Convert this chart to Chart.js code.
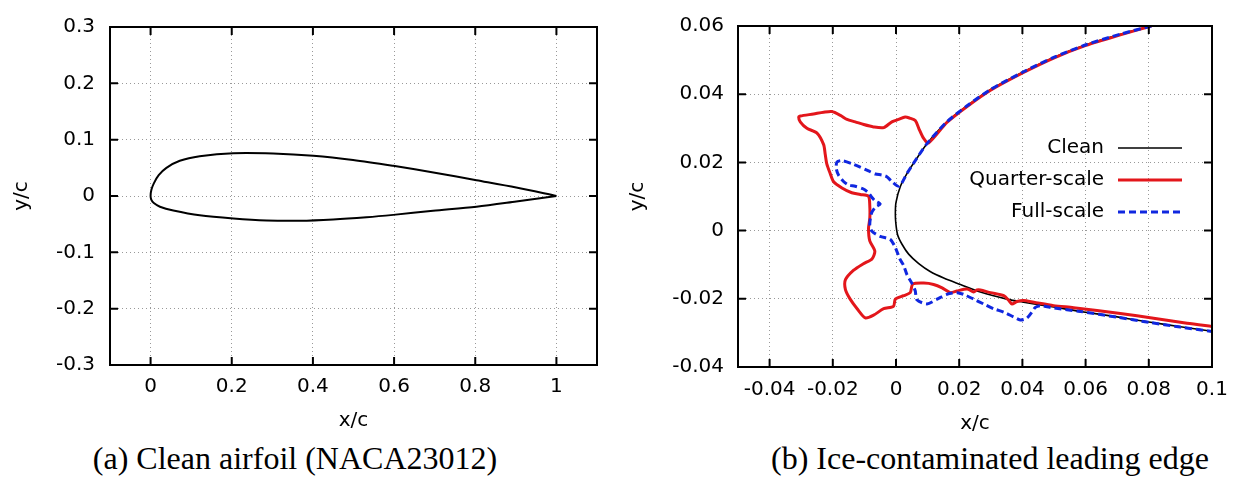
<!DOCTYPE html>
<html>
<head>
<meta charset="utf-8">
<script src="https://cdn.jsdelivr.net/npm/chart.js@4/dist/chart.umd.min.js"></script>
<style>
  html, body { margin: 0; padding: 0; background: #fff; }
  body { width: 1237px; height: 480px; position: relative; overflow: hidden; }
  .box { position: absolute; top: 0; height: 440px; }
  .cap { position: absolute; top: 442px; width: 520px; text-align: center;
         font-family: "Liberation Serif", "Times New Roman", serif; font-size: 32px;
         line-height: 32px; color: #000; white-space: nowrap; }
</style>
</head>
<body>
<div class="box" style="left:0; width:620px;"><canvas id="chartA"></canvas></div>
<div class="box" style="left:620px; width:640px;"><canvas id="chartB"></canvas></div>
<div class="cap" style="left:35px;">(a) Clean airfoil (NACA23012)</div>
<div class="cap" style="left:730px;">(b) Ice-contaminated leading edge</div>
<script>
// (a) clean airfoil, trailing edge -> upper -> leading edge -> lower -> trailing edge
var airfoilX = [1.0, 0.901, 0.803, 0.704, 0.598, 0.499, 0.401, 0.302, 0.204, 0.121, 0.072, 0.039, 0.020, 0.008, 0.002, 0.0,
                0.002, 0.008, 0.023, 0.056, 0.121, 0.204, 0.286, 0.368, 0.450, 0.532, 0.598, 0.696, 0.803, 0.901, 1.0];
var airfoilY = [0.0, 0.0150, 0.0280, 0.0410, 0.0535, 0.0640, 0.0715, 0.0755, 0.0760, 0.0705, 0.0625, 0.0500, 0.0370, 0.0225, 0.0110, 0.0,
                -0.0070, -0.0125, -0.0190, -0.0257, -0.0343, -0.0400, -0.0435, -0.0440, -0.0417, -0.0377, -0.0335, -0.0263, -0.0189, -0.0097, 0.0];

// (b) leading edge close-up
var cleanX = [0.0808, 0.0710, 0.0601, 0.0499, 0.0402, 0.0298, 0.0225, 0.0161, 0.0098, 0.0061, 0.0035, 0.0014, 0.0000, -0.0002, -0.0001,
              0.0005, 0.0019, 0.0040, 0.0072, 0.0108, 0.0151, 0.0204, 0.0267, 0.0351, 0.0404, 0.0499, 0.0583, 0.0700, 0.0800, 0.0900, 0.1000];
var cleanY = [0.0600, 0.0576, 0.0545, 0.0508, 0.0465, 0.0413, 0.0366, 0.0319, 0.0255, 0.0205, 0.0168, 0.0130, 0.0083, 0.0054, 0.0026,
              -0.0012, -0.0040, -0.0069, -0.0097, -0.0120, -0.0139, -0.0158, -0.0180, -0.0201, -0.0210, -0.0224, -0.0237, -0.0253, -0.0268, -0.0282, -0.0295];

var quarterX = [0.0808, 0.0710, 0.0601, 0.0499, 0.0402, 0.0298, 0.0225, 0.0161, 0.0103,
                0.0087, 0.0072, 0.0061, 0.0043, 0.0029, 0.0008, -0.0013, -0.0039, -0.0071, -0.0102, -0.0129, -0.0155, -0.0176, -0.0203,
                -0.0229, -0.0261, -0.0303, -0.0308, -0.0303, -0.0282, -0.0250, -0.0229, -0.0224, -0.0219, -0.0208, -0.0198, -0.0171,
                -0.0140, -0.0113, -0.0087, -0.0083, -0.0083, -0.0087, -0.0083, -0.0067, -0.0076, -0.0103, -0.0134, -0.0160, -0.0160,
                -0.0145, -0.0123, -0.0097, -0.0071, -0.0039, -0.0008, -0.0002, 0.0024, 0.0045, 0.0053,
                0.0088, 0.0119, 0.0146, 0.0172, 0.0193, 0.0225, 0.0246, 0.0256, 0.0267, 0.0299, 0.0341, 0.0357, 0.0367, 0.0383,
                0.0404, 0.0436, 0.0499, 0.0562, 0.0710, 0.0815, 0.0921, 0.1000];
var quarterY = [0.0600, 0.0574, 0.0543, 0.0506, 0.0463, 0.0411, 0.0364, 0.0317, 0.0257,
                0.0271, 0.0300, 0.0323, 0.0330, 0.0333, 0.0326, 0.0319, 0.0302, 0.0304, 0.0311, 0.0319, 0.0326, 0.0338, 0.0349,
                0.0347, 0.0342, 0.0336, 0.0333, 0.0319, 0.0300, 0.0286, 0.0252, 0.0224, 0.0196, 0.0167, 0.0144, 0.0125,
                0.0111, 0.0106, 0.0101, 0.0073, 0.0035, 0.0007, -0.0030, -0.0060, -0.0083, -0.0097, -0.0116, -0.0144, -0.0173,
                -0.0201, -0.0229, -0.0256, -0.0248, -0.0229, -0.0222, -0.0201, -0.0191, -0.0182, -0.0157,
                -0.0154, -0.0158, -0.0168, -0.0182, -0.0177, -0.0171, -0.0180, -0.0174, -0.0174, -0.0182, -0.0191, -0.0205, -0.0215, -0.0208,
                -0.0205, -0.0210, -0.0220, -0.0226, -0.0243, -0.0257, -0.0272, -0.0281];

var fullX = [0.0808, 0.0710, 0.0601, 0.0499, 0.0402, 0.0298, 0.0225, 0.0161, 0.0098, 0.0061, 0.0035, 0.0010,
             -0.0013, -0.0029, -0.0044, -0.0065, -0.0087, -0.0113, -0.0139, -0.0171, -0.0187, -0.0189, -0.0182, -0.0166, -0.0150,
             -0.0129, -0.0103, -0.0087, -0.0076, -0.0066, -0.0050, -0.0066, -0.0078, -0.0083, -0.0076, -0.0050, -0.0018, -0.0002,
             0.0012, 0.0024, 0.0035, 0.0050, 0.0061, 0.0066, 0.0098, 0.0130, 0.0161, 0.0193, 0.0214, 0.0246, 0.0277, 0.0309,
             0.0341, 0.0372, 0.0393, 0.0414, 0.0430, 0.0441, 0.0457, 0.0499, 0.0583, 0.0700, 0.0800, 0.0900, 0.1000];
var fullY = [0.0600, 0.0576, 0.0545, 0.0508, 0.0465, 0.0413, 0.0366, 0.0319, 0.0255, 0.0205, 0.0168, 0.0130,
             0.0144, 0.0158, 0.0163, 0.0166, 0.0175, 0.0186, 0.0196, 0.0205, 0.0201, 0.0182, 0.0163, 0.0144, 0.0134,
             0.0130, 0.0122, 0.0111, 0.0097, 0.0087, 0.0078, 0.0068, 0.0050, 0.0016, -0.0002, -0.0017, -0.0026, -0.0050,
             -0.0083, -0.0102, -0.0130, -0.0154, -0.0177, -0.0203, -0.0215, -0.0201, -0.0187, -0.0182, -0.0187, -0.0201, -0.0215, -0.0229,
             -0.0239, -0.0253, -0.0262, -0.0257, -0.0239, -0.0225, -0.0220, -0.0227, -0.0237, -0.0254, -0.0269, -0.0283, -0.0296];

var seriesNames = ['Clean', 'Quarter-scale', 'Full-scale'];

var ticksAX = [0, 0.2, 0.4, 0.6, 0.8, 1];
var ticksAY = [-0.3, -0.2, -0.1, 0, 0.1, 0.2, 0.3];
var ticksBX = [-0.04, -0.02, 0, 0.02, 0.04, 0.06, 0.08, 0.1];
var ticksBY = [-0.04, -0.02, 0, 0.02, 0.04, 0.06];

function pts(xs, ys) {
  return xs.map(function (x, i) { return { x: x, y: ys[i] }; });
}
function fmt(v) { return String(+Number(v).toFixed(4)); }

Chart.defaults.font.family = '"DejaVu Sans", sans-serif';
Chart.defaults.font.size = 20;
Chart.defaults.color = '#000';
Chart.defaults.animation = false;

// gnuplot style box: solid frame with inward tick marks on all four sides
var frameTicks = {
  id: 'frameTicks',
  afterDatasetsDraw: function (chart) {
    var ctx = chart.ctx, a = chart.chartArea;
    var xs = chart.scales.x, ys = chart.scales.y;
    ctx.save();
    ctx.strokeStyle = '#000';
    ctx.lineWidth = 2;
    ctx.setLineDash([]);
    ctx.beginPath();
    xs.ticks.forEach(function (t) {
      var px = xs.getPixelForValue(t.value);
      ctx.moveTo(px, a.bottom); ctx.lineTo(px, a.bottom - 8);
      ctx.moveTo(px, a.top); ctx.lineTo(px, a.top + 8);
    });
    ys.ticks.forEach(function (t) {
      var py = ys.getPixelForValue(t.value);
      ctx.moveTo(a.left, py); ctx.lineTo(a.left + 8, py);
      ctx.moveTo(a.right, py); ctx.lineTo(a.right - 8, py);
    });
    ctx.stroke();
    ctx.strokeRect(a.left, a.top, a.right - a.left, a.bottom - a.top);
    ctx.restore();
  }
};

// key inside the plot, text right-aligned with the line sample after it
var insideLegend = {
  id: 'insideLegend',
  afterDraw: function (chart) {
    var ctx = chart.ctx, a = chart.chartArea;
    ctx.save();
    chart.data.datasets.forEach(function (ds, i) {
      var y = a.top + 122 + i * 32;
      ctx.font = '20px "DejaVu Sans"';
      ctx.fillStyle = '#000';
      ctx.textAlign = 'right';
      ctx.textBaseline = 'middle';
      ctx.fillText(ds.label, a.right - 108, y);
      ctx.strokeStyle = ds.borderColor;
      ctx.lineWidth = ds.borderWidth;
      ctx.setLineDash(ds.borderDash || []);
      ctx.beginPath();
      ctx.moveTo(a.right - 94, y);
      ctx.lineTo(a.right - 30, y);
      ctx.stroke();
    });
    ctx.restore();
  }
};

function axis(min, max, tickVals, title, opts) {
  return {
    type: 'linear',
    min: min,
    max: max,
    afterBuildTicks: function (s) { s.ticks = tickVals.map(function (v) { return { value: v }; }); },
    afterFit: opts.fit,
    ticks: { padding: opts.pad, callback: fmt, font: { size: 20 } },
    grid: { color: '#999', lineWidth: 1, drawTicks: false },
    border: { display: false, dash: [1, 3] },
    title: { display: true, text: title, font: { size: 20 }, padding: opts.titlePad }
  };
}

new Chart('chartA', {
  type: 'scatter',
  data: {
    datasets: [{
      label: 'NACA23012',
      data: pts(airfoilX, airfoilY),
      showLine: true,
      borderColor: '#000',
      borderWidth: 2,
      pointRadius: 0,
      tension: 0.3
    }]
  },
  options: {
    responsive: true,
    maintainAspectRatio: false,
    layout: { padding: { left: 0, top: 15, right: 23, bottom: 0 } },
    plugins: { legend: { display: false }, tooltip: { enabled: false } },
    scales: {
      x: axis(-0.1, 1.1, ticksAX, 'x/c', { pad: 10, titlePad: { top: 0, bottom: 7 }, fit: function (s) { s.height = 75; } }),
      y: axis(-0.3, 0.3, ticksAY, 'y/c', { pad: 15, titlePad: { top: 10, bottom: 0 }, fit: function (s) { s.width = 110; } })
    }
  },
  plugins: [frameTicks]
});

new Chart('chartB', {
  type: 'scatter',
  data: {
    datasets: [{
      label: seriesNames[0],
      data: pts(cleanX, cleanY),
      showLine: true,
      borderColor: '#000',
      borderWidth: 1.6,
      pointRadius: 0,
      tension: 0.3,
      order: 3
    }, {
      label: seriesNames[1],
      data: pts(quarterX, quarterY),
      showLine: true,
      borderColor: '#e3161b',
      borderWidth: 3,
      pointRadius: 0,
      tension: 0.25,
      order: 2
    }, {
      label: seriesNames[2],
      data: pts(fullX, fullY),
      showLine: true,
      borderColor: '#1027e0',
      borderWidth: 3,
      borderDash: [7, 4],
      pointRadius: 0,
      tension: 0.25,
      order: 1
    }]
  },
  options: {
    responsive: true,
    maintainAspectRatio: false,
    layout: { padding: { left: 0, top: 14, right: 48, bottom: 0 } },
    plugins: { legend: { display: false }, tooltip: { enabled: false } },
    scales: {
      x: axis(-0.05, 0.1, ticksBX, 'x/c', { pad: 11, titlePad: { top: 0, bottom: 4 }, fit: function (s) { s.height = 73; } }),
      y: axis(-0.04, 0.06, ticksBY, 'y/c', { pad: 14, titlePad: { top: 6, bottom: 0 }, fit: function (s) { s.width = 118; } })
    }
  },
  plugins: [frameTicks, insideLegend]
});
</script>
</body>
</html>
